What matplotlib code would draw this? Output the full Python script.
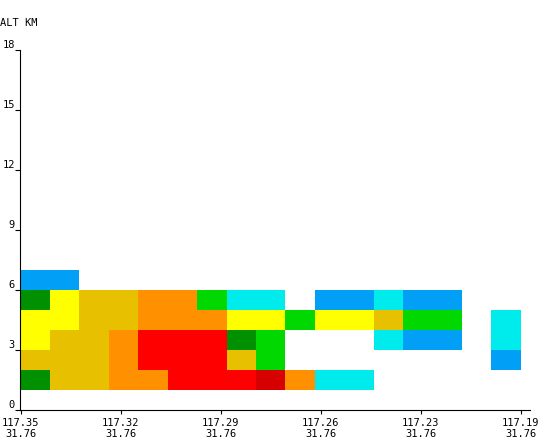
import numpy as np
import matplotlib

matplotlib.use("Agg")
import matplotlib.pyplot as plt
from matplotlib.colors import ListedColormap, BoundaryNorm

# reflectivity (dBZ) per cell, rows from 1-2 km upward, 17 columns west -> east
# 0 means no echo
dbz_rows = [
    [30, 40, 40, 45, 45, 50, 50, 50, 55, 45, 5, 5, 0, 0, 0, 0, 0],    # 1-2 km
    [40, 40, 40, 45, 50, 50, 50, 40, 25, 0, 0, 0, 0, 0, 0, 0, 10],    # 2-3 km
    [35, 40, 40, 45, 50, 50, 50, 30, 25, 0, 0, 0, 5, 10, 10, 0, 5],   # 3-4 km
    [35, 35, 40, 40, 45, 45, 45, 35, 35, 25, 35, 35, 40, 25, 25, 0, 5],  # 4-5 km
    [30, 35, 40, 40, 45, 45, 25, 5, 5, 0, 10, 10, 5, 10, 10, 0, 0],   # 5-6 km
    [10, 10, 0, 0, 0, 0, 0, 0, 0, 0, 0, 0, 0, 0, 0, 0, 0],            # 6-7 km
]
alt_bottom = 1
lon_start = 117.35
lon_stop = 117.20

# colour of each level 5, 10, ..., 60 dBZ
dbz_levels = [5, 10, 15, 20, 25, 30, 35, 40, 45, 50, 55, 60]
dbz_colors = ["#00ECEC", "#01A0F6", "#0000F6", "#00FF00", "#00D800", "#009000",
              "#FFFF00", "#E7C000", "#FF9000", "#FF0000", "#D60000", "#C00000"]

tick_lons = [117.35, 117.32, 117.29, 117.26, 117.23, 117.20]
tick_labels = ["117.35\n31.76", "117.32\n31.76", "117.29\n31.76",
               "117.26\n31.76", "117.23\n31.76", "117.19\n31.76"]
alt_ticks = [0, 3, 6, 9, 12, 15, 18]

plt.rcParams["font.family"] = ["DejaVu Sans Mono"]

grid = np.array(dbz_rows, dtype=float)
grid[grid <= 0] = np.nan
ncols = grid.shape[1]
x_edges = np.linspace(lon_start, lon_stop, ncols + 1)
y_edges = np.arange(grid.shape[0] + 1) + alt_bottom

cmap = ListedColormap(dbz_colors)
bounds = [lvl - 2.5 for lvl in dbz_levels] + [dbz_levels[-1] + 2.5]
norm = BoundaryNorm(bounds, cmap.N)

fig = plt.figure(figsize=(5.4, 4.4), dpi=100)
ax = fig.add_axes([20 / 540, 30 / 440, 510 / 540, 360 / 440])
ax.pcolormesh(x_edges, y_edges, grid, cmap=cmap, norm=norm, shading="flat")

ax.set_xlim(117.35 + 0.0002, 117.1972)
ax.set_ylim(0, 18)
ax.set_xticks(tick_lons)
ax.set_xticklabels(tick_labels, fontsize=7.5)
ax.set_yticks(alt_ticks)
ax.set_yticklabels([str(t) for t in alt_ticks], fontsize=7.5)
for lab in ax.get_yticklabels():
    lab.set_verticalalignment("bottom")

ax.tick_params(axis="x", direction="out", length=3, width=0.8, pad=2.5)
ax.tick_params(axis="y", direction="out", length=3.6, width=0.8, pad=0)
for side in ("top", "right"):
    ax.spines[side].set_visible(False)
for side in ("left", "bottom"):
    ax.spines[side].set_linewidth(0.8)

fig.text(0, 1 - 18 / 440, "ALT KM", fontsize=7.5, ha="left", va="top")

fig.savefig("out.png", dpi=100)
